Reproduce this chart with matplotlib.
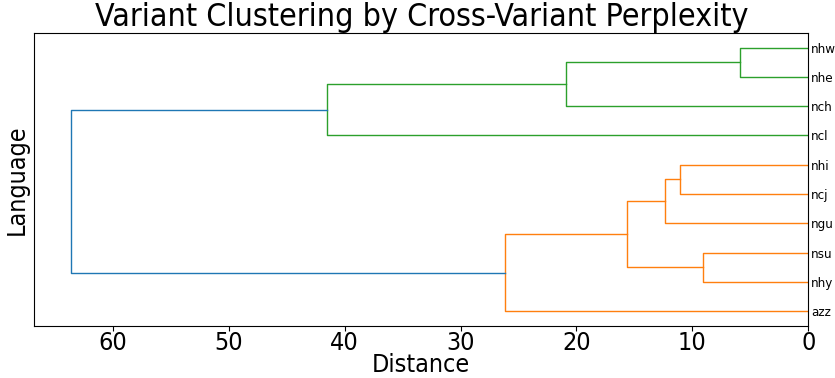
import matplotlib
matplotlib.use("Agg")
import matplotlib.pyplot as plt

plt.rcParams["font.family"] = ["DejaVu Sans"]
plt.rcParams["font.stretch"] = "condensed"

# Leaves from bottom (y=5) to top (y=95)
leaves = ["azz", "nhy", "nsu", "ngu", "ncj", "nhi", "ncl", "nch", "nhe", "nhw"]
# Merges: (child a, child b, distance, colour); children are leaf names or merge indices "#k"
merge_a = ["nhe", "#0", "#1", "nhi", "#3", "nsu", "#4", "azz", "#7"]
merge_b = ["nhw", "nch", "ncl", "ncj", "ngu", "nhy", "#5", "#6", "#2"]
merge_d = [5.9, 20.9, 41.5, 11.1, 12.4, 9.1, 15.6, 26.2, 63.6]
merge_c = ["C2", "C2", "C2", "C1", "C1", "C1", "C1", "C1", "C0"]

fig = plt.figure(figsize=(8.35, 3.78), dpi=100)
ax = fig.add_axes([0.041, 0.138, 0.927, 0.775])

pos = {name: 5 + 10 * i for i, name in enumerate(leaves)}
dist = {name: 0.0 for name in leaves}
for k, (a, b, d, c) in enumerate(zip(merge_a, merge_b, merge_d, merge_c)):
    ya, yb = pos[a], pos[b]
    ax.plot([dist[a], d, d, dist[b]], [ya, ya, yb, yb], color=c, lw=1)
    key = "#%d" % k
    pos[key] = (ya + yb) / 2
    dist[key] = d

ax.set_ylim(0, 10 * len(leaves))
ax.set_xlim(max(merge_d) * 1.05, 0)
ax.yaxis.set_ticks_position("right")
ax.set_yticks([pos[n] for n in leaves])
ax.set_yticklabels(leaves, fontsize=9.5)
ax.tick_params(axis="y", length=0, pad=2)
ax.tick_params(axis="x", labelsize=18, pad=0.5)
ax.set_xlabel("Distance", fontsize=18, labelpad=-1.5)
ax.set_ylabel("Language", fontsize=18, labelpad=4)
ax.set_title("Variant Clustering by Cross-Variant Perplexity", fontsize=23, pad=2)

fig.savefig("out.png", dpi=100)
